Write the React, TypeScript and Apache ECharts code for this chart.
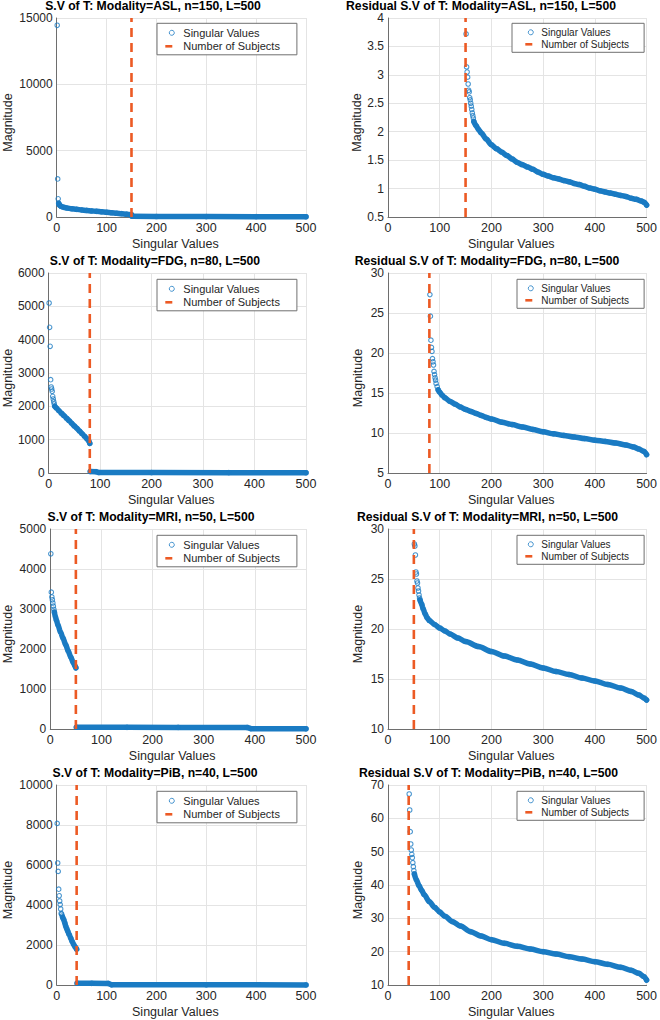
import React, { useEffect, useRef } from "react";
import * as echarts from "echarts";

const FONT = '"Liberation Sans", Arial, Helvetica, sans-serif';
const BLUE = "#1a7bc3";
const ORANGE = "#ec5a24";
const INK = "#262626";

const SV_NAME = "Singular Values";
const NS_NAME = "Number of Subjects";
const X_NAME = "Singular Values";
const Y_NAME = "Magnitude";
const X_TICKS = [0, 100, 200, 300, 400, 500];

// ---------- ASL ----------
const ASL_N = 150;
const ASL_Y_TICKS = [0, 5000, 10000, 15000];
const ASL_HEAD: [number, number][] = [[1, 14450], [2, 2870], [3, 1370]];
const ASL_BODY: [number, number][] = [[4, 1030], [5, 940], [6, 880], [8, 820], [10, 780], [15, 720], [20, 680], [30, 620], [40, 575], [50, 535], [60, 495], [70, 460], [80, 425], [90, 390], [100, 355], [110, 320], [120, 285], [130, 250], [140, 215], [150, 180]];
const ASL_TAIL: [number, number][] = [[151, 55], [200, 40], [300, 30], [400, 25], [500, 20]];

const ASL_R_Y_TICKS = [0.5, 1, 1.5, 2, 2.5, 3, 3.5, 4];
const ASL_R_HEAD: [number, number][] = [[151, 3.72], [152, 3.14], [153, 3.05], [154, 2.96], [155, 2.84], [156, 2.73], [157, 2.7], [158, 2.6], [159, 2.56], [160, 2.5], [161, 2.45], [162, 2.39], [163, 2.33], [164, 2.28], [165, 2.24]];
const ASL_R_BODY: [number, number][] = [[166, 2.18], [170, 2.11], [175, 2.04], [180, 1.98], [190, 1.87], [200, 1.77], [210, 1.7], [220, 1.64], [230, 1.58], [240, 1.52], [250, 1.46], [260, 1.42], [270, 1.38], [280, 1.34], [290, 1.29], [300, 1.25], [310, 1.22], [320, 1.19], [330, 1.17], [340, 1.14], [350, 1.12], [360, 1.09], [370, 1.07], [380, 1.04], [390, 1.01], [400, 0.99], [410, 0.96], [420, 0.94], [430, 0.92], [440, 0.9], [450, 0.88], [460, 0.86], [470, 0.83], [480, 0.81], [490, 0.78], [495, 0.76], [500, 0.71]];

// ---------- FDG ----------
const FDG_N = 80;
const FDG_Y_TICKS = [0, 1000, 2000, 3000, 4000, 5000, 6000];
const FDG_HEAD: [number, number][] = [[1, 5100], [2, 4370], [3, 3800], [4, 2800], [5, 2580], [6, 2520], [7, 2450], [8, 2300], [9, 2220], [10, 2140], [11, 2070]];
const FDG_BODY: [number, number][] = [[12, 2000], [15, 1950], [20, 1870], [25, 1790], [30, 1720], [35, 1640], [40, 1570], [45, 1490], [50, 1410], [55, 1340], [60, 1260], [65, 1180], [70, 1100], [75, 1020], [78, 960], [80, 890]];
const FDG_TAIL: [number, number][] = [[81, 45], [92, 40], [97, 15], [200, 12], [350, 10], [500, 8]];

const FDG_R_Y_TICKS = [5, 10, 15, 20, 25, 30];
const FDG_R_HEAD: [number, number][] = [[81, 27.3], [82, 24.6], [83, 21.6], [84, 20.7], [85, 20.2], [86, 19.3], [87, 18.9], [88, 18.5], [89, 17.7], [90, 17.3], [91, 16.9], [92, 16.6], [93, 16.2], [95, 15.8]];
const FDG_R_BODY: [number, number][] = [[97, 15.4], [100, 15.1], [105, 14.7], [110, 14.4], [120, 13.95], [130, 13.6], [140, 13.25], [150, 12.95], [160, 12.7], [170, 12.45], [180, 12.2], [190, 11.95], [200, 11.75], [220, 11.35], [240, 11.05], [260, 10.75], [280, 10.45], [300, 10.15], [320, 9.9], [340, 9.7], [360, 9.5], [380, 9.3], [400, 9.1], [420, 8.95], [440, 8.75], [460, 8.5], [475, 8.25], [485, 8.0], [495, 7.7], [500, 7.3]];

// ---------- MRI ----------
const MRI_N = 50;
const MRI_Y_TICKS = [0, 1000, 2000, 3000, 4000, 5000];
const MRI_HEAD: [number, number][] = [[1, 4380], [2, 3420], [3, 3300], [4, 3230], [5, 3150], [6, 3070], [7, 2990]];
const MRI_BODY: [number, number][] = [[8, 2920], [10, 2800], [12, 2720], [15, 2600], [20, 2420], [25, 2270], [30, 2110], [35, 1950], [40, 1800], [45, 1660], [48, 1580], [50, 1530]];
const MRI_TAIL: [number, number][] = [[51, 45], [150, 42], [250, 40], [385, 38], [392, 8], [500, 4]];

const MRI_R_Y_TICKS = [10, 15, 20, 25, 30];
const MRI_R_HEAD: [number, number][] = [[51, 28.5], [52, 28.3], [53, 27.4], [54, 25.7], [55, 25.5], [56, 24.8], [57, 24.6], [58, 24.1], [59, 23.8], [60, 23.4], [61, 23.1]];
const MRI_R_BODY: [number, number][] = [[62, 22.9], [65, 22.5], [68, 22.0], [72, 21.5], [76, 21.1], [80, 20.85], [90, 20.45], [100, 20.1], [110, 19.8], [120, 19.5], [135, 19.1], [150, 18.75], [175, 18.25], [200, 17.75], [225, 17.3], [250, 16.9], [275, 16.5], [300, 16.1], [325, 15.75], [350, 15.45], [375, 15.1], [400, 14.8], [425, 14.45], [450, 14.1], [470, 13.75], [485, 13.4], [495, 13.1], [500, 12.9]];

// ---------- PiB ----------
const PIB_N = 40;
const PIB_Y_TICKS = [0, 2000, 4000, 6000, 8000, 10000];
const PIB_HEAD: [number, number][] = [[1, 8080], [2, 6100], [3, 5680], [4, 4790], [5, 4460], [6, 4200], [7, 4020], [8, 3800], [9, 3580], [10, 3540], [11, 3450]];
const PIB_BODY: [number, number][] = [[12, 3380], [14, 3280], [16, 3130], [18, 2950], [20, 2820], [22, 2700], [25, 2520], [28, 2350], [31, 2180], [34, 2030], [37, 1900], [40, 1790]];
const PIB_TAIL: [number, number][] = [[41, 90], [70, 85], [103, 80], [110, 10], [300, 8], [500, 5]];

const PIB_R_Y_TICKS = [10, 20, 30, 40, 50, 60, 70];
const PIB_R_HEAD: [number, number][] = [[41, 67.3], [42, 62.5], [43, 56.0], [44, 52.3], [45, 50.5], [46, 49.2], [47, 48.2], [48, 46.7], [49, 45.5], [50, 44.3]];
const PIB_R_BODY: [number, number][] = [[51, 43.3], [55, 41.5], [60, 39.8], [65, 38.4], [70, 37.1], [80, 35.0], [90, 33.3], [100, 31.9], [110, 30.6], [125, 29.0], [140, 27.7], [160, 26.0], [180, 24.7], [200, 23.6], [225, 22.5], [250, 21.6], [275, 20.8], [300, 20.0], [325, 19.3], [350, 18.5], [375, 17.8], [400, 17.0], [425, 16.2], [450, 15.3], [470, 14.4], [485, 13.5], [495, 12.5], [500, 11.5]];

type Panel = {
  title: string;
  n: number;
  yTicks: number[];
  head: [number, number][];
  body: [number, number][];
  tail?: [number, number][];
};

const PANELS: Panel[] = [
  { title: "S.V of T: Modality=ASL, n=150, L=500", n: ASL_N, yTicks: ASL_Y_TICKS, head: ASL_HEAD, body: ASL_BODY, tail: ASL_TAIL },
  { title: "Residual S.V of T: Modality=ASL, n=150, L=500", n: ASL_N, yTicks: ASL_R_Y_TICKS, head: ASL_R_HEAD, body: ASL_R_BODY },
  { title: "S.V of T: Modality=FDG, n=80, L=500", n: FDG_N, yTicks: FDG_Y_TICKS, head: FDG_HEAD, body: FDG_BODY, tail: FDG_TAIL },
  { title: "Residual S.V of T: Modality=FDG, n=80, L=500", n: FDG_N, yTicks: FDG_R_Y_TICKS, head: FDG_R_HEAD, body: FDG_R_BODY },
  { title: "S.V of T: Modality=MRI, n=50, L=500", n: MRI_N, yTicks: MRI_Y_TICKS, head: MRI_HEAD, body: MRI_BODY, tail: MRI_TAIL },
  { title: "Residual S.V of T: Modality=MRI, n=50, L=500", n: MRI_N, yTicks: MRI_R_Y_TICKS, head: MRI_R_HEAD, body: MRI_R_BODY },
  { title: "S.V of T: Modality=PiB, n=40, L=500", n: PIB_N, yTicks: PIB_Y_TICKS, head: PIB_HEAD, body: PIB_BODY, tail: PIB_TAIL },
  { title: "Residual S.V of T: Modality=PiB, n=40, L=500", n: PIB_N, yTicks: PIB_R_Y_TICKS, head: PIB_R_HEAD, body: PIB_R_BODY },
];

// ---------- layout (pixels) ----------
const GRID_TOP = [18, 273, 529, 785];
const GRID_BOTTOM = [217, 473, 729, 985];
const LEFT_COL_X = [56, 47, 49, 56];
const LEFT_COL_RIGHT = 306;
const RIGHT_COL_X = 388;
const RIGHT_COL_RIGHT = 651;
const TITLE_CX = [[153, 481], [155, 487], [151, 487.5], [155, 488.5]];
const TITLE_CY = [5.5, 260.5, 516.5, 772.5];
const Y_NAME_GAP = [[42.7, 24], [34.6, 24], [36.3, 24], [42.7, 24]];
const LEGEND_LEFT = [[157, 512], [157, 517], [157, 517], [157, 517]];
const LEGEND_TOP = [23.3, 279.3, 535.3, 791.3];

function fmt(v: number) {
  return String(Math.round(v * 100) / 100);
}

function buildOption() {
  const grid: any[] = [];
  const xAxis: any[] = [];
  const yAxis: any[] = [];
  const series: any[] = [];
  const legend: any[] = [];
  const graphic: any[] = [];

  PANELS.forEach((p, i) => {
    const row = Math.floor(i / 2);
    const col = i % 2;
    const left = col === 0 ? LEFT_COL_X[row] : RIGHT_COL_X;
    const right = col === 0 ? LEFT_COL_RIGHT : RIGHT_COL_RIGHT;
    const top = GRID_TOP[row];
    const yMin = p.yTicks[0];
    const yMax = p.yTicks[p.yTicks.length - 1];
    const yInt = p.yTicks[1] - p.yTicks[0];

    grid.push({ left, top, width: right - left, height: GRID_BOTTOM[row] - top, containLabel: false });

    xAxis.push({
      type: "value",
      gridIndex: i,
      min: X_TICKS[0],
      max: X_TICKS[X_TICKS.length - 1],
      interval: X_TICKS[1] - X_TICKS[0],
      name: X_NAME,
      nameLocation: "middle",
      nameGap: 20,
      nameTextStyle: { fontSize: 12.5, color: INK, fontFamily: FONT, padding: [0, 12, 0, 0] },
      axisLine: { show: true, onZero: false, lineStyle: { color: "#6e6e6e", width: 1 } },
      axisTick: { show: false },
      axisLabel: { fontSize: 12.5, lineHeight: 11, color: INK, fontFamily: FONT, margin: 5.5, formatter: fmt },
      splitLine: { show: true, lineStyle: { color: "#e4e4e4", width: 1 } },
    });

    yAxis.push({
      type: "value",
      gridIndex: i,
      min: yMin,
      max: yMax,
      interval: yInt,
      name: Y_NAME,
      nameLocation: "middle",
      nameGap: Y_NAME_GAP[row][col],
      nameTextStyle: { fontSize: 12.5, color: INK, fontFamily: FONT, padding: [0, 10, 0, 0] },
      axisLine: { show: true, onZero: false, lineStyle: { color: "#6e6e6e", width: 1 } },
      axisTick: { show: false },
      axisLabel: { fontSize: 12, lineHeight: 11, color: INK, fontFamily: FONT, margin: 4, formatter: fmt },
      splitLine: { show: true, lineStyle: { color: "#e4e4e4", width: 1 } },
    });

    const bandStyle = { color: BLUE, width: 5.5, cap: "round", join: "round" };
    series.push({
      type: "line",
      name: "band-" + i,
      xAxisIndex: i,
      yAxisIndex: i,
      data: p.body,
      symbol: "none",
      smooth: 0.3,
      smoothMonotone: "x",
      clip: false,
      silent: true,
      lineStyle: bandStyle,
      z: 2,
    });
    if (p.tail) {
      series.push({
        type: "line",
        name: "tail-" + i,
        xAxisIndex: i,
        yAxisIndex: i,
        data: p.tail,
        symbol: "none",
        clip: false,
        silent: true,
        lineStyle: bandStyle,
        z: 2,
      });
    }
    series.push({
      type: "scatter",
      name: SV_NAME,
      xAxisIndex: i,
      yAxisIndex: i,
      data: [...p.head, ...p.body, ...(p.tail || [])],
      symbol: "circle",
      symbolSize: 4.5,
      clip: false,
      silent: true,
      itemStyle: { color: "rgba(255,255,255,0)", borderColor: BLUE, borderWidth: 1.1 },
      z: 3,
    });
    series.push({
      type: "line",
      name: NS_NAME,
      xAxisIndex: i,
      yAxisIndex: i,
      data: [[p.n, yMin], [p.n, yMax]],
      symbol: "none",
      clip: false,
      silent: true,
      lineStyle: { color: ORANGE, width: 2.6, type: [9, 6] },
      z: 4,
    });

    const isLeft = col === 0;
    legend.push({
      orient: "vertical",
      left: LEGEND_LEFT[row][col],
      top: LEGEND_TOP[row],
      padding: isLeft ? [3, 17, 2, 7] : [3, 15, 2, row === 0 ? 12 : 7],
      itemWidth: isLeft ? 13 : 11,
      itemHeight: 5,
      itemGap: isLeft ? 0.5 : 0,
      selectedMode: false,
      backgroundColor: "#fff",
      borderColor: "#707070",
      borderWidth: 1,
      borderRadius: 0,
      textStyle: { fontSize: isLeft ? 11 : 10, lineHeight: isLeft ? 13 : 12, color: INK, fontFamily: FONT },
      data: [
        { name: SV_NAME, icon: "circle", itemStyle: { color: "#fff", borderColor: BLUE, borderWidth: 1 } },
        {
          name: NS_NAME,
          itemStyle: { color: "rgba(0,0,0,0)", borderColor: "rgba(0,0,0,0)", borderWidth: 0 },
          lineStyle: { color: ORANGE, width: 2.6, type: [7, 20] },
        },
      ],
    });

    graphic.push({
      type: "text",
      x: TITLE_CX[row][col],
      y: TITLE_CY[row],
      silent: true,
      style: {
        text: p.title,
        fill: "#000",
        fontSize: 12.2,
        lineHeight: 11,
        fontWeight: "bold",
        fontFamily: FONT,
        align: "center",
        verticalAlign: "middle",
      },
    });
  });

  return {
    animation: false,
    backgroundColor: "#fff",
    textStyle: { fontFamily: FONT },
    grid,
    xAxis,
    yAxis,
    series,
    legend,
    graphic,
  };
}

export default function App() {
  const ref = useRef<HTMLDivElement>(null);
  useEffect(() => {
    if (!ref.current) return;
    const chart = echarts.init(ref.current, undefined, { renderer: "svg" });
    chart.setOption(buildOption() as any);
    return () => chart.dispose();
  }, []);
  return (
    <div
      ref={ref}
      style={{ position: "absolute", left: 0, top: 0, width: 660, height: 1020, background: "#fff" }}
    />
  );
}
